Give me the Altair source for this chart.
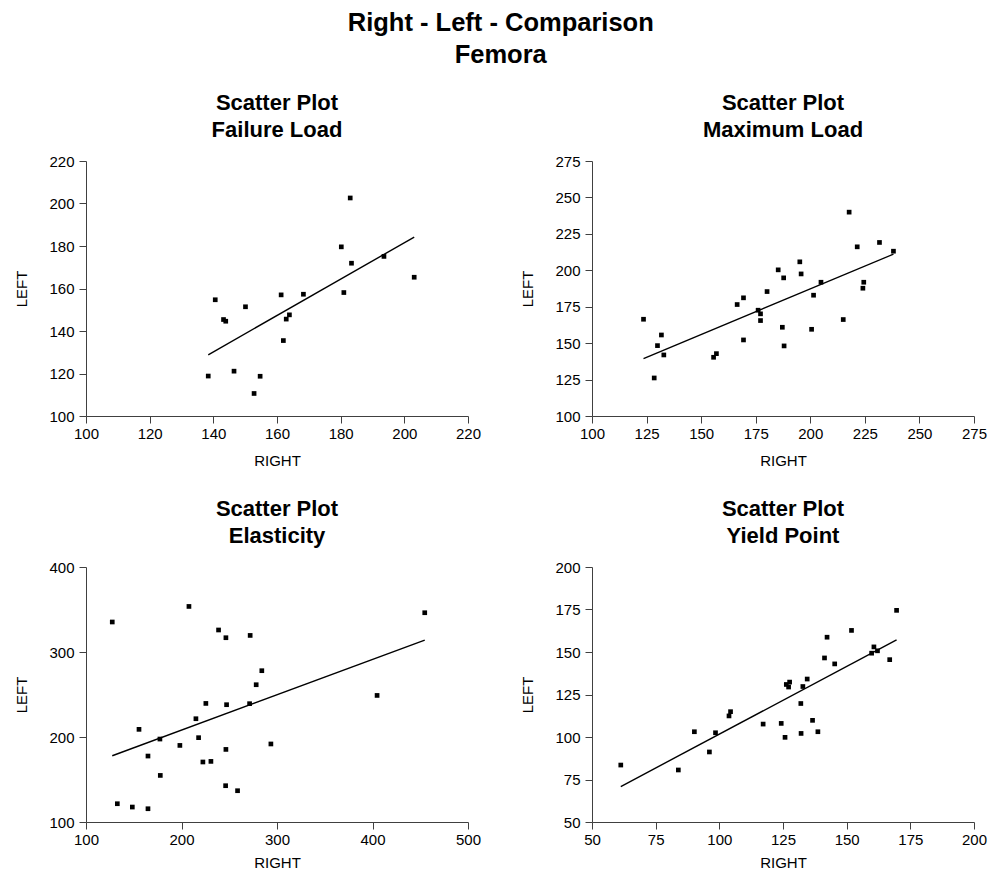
import altair as alt
import pandas as pd

FONT = "Liberation Sans"

# Panel 1: Failure Load
fl_right = [138.4, 140.6, 143.2, 143.9, 146.5, 150.1, 152.8, 154.7, 161.3, 162.0,
            162.9, 163.9, 168.3, 180.2, 181.0, 183.0, 183.4, 193.6, 203.1]
fl_left = [118.8, 154.7, 145.4, 144.6, 121.1, 151.4, 110.6, 118.7, 157.0, 135.5,
           145.6, 147.6, 157.3, 179.6, 158.1, 202.6, 171.9, 175.1, 165.3]

# Panel 2: Maximum Load
ml_right = [123.6, 128.5, 130.0, 131.8, 132.9, 155.7, 157.0, 166.5, 169.4, 169.4,
            176.1, 177.2, 177.2, 180.2, 185.3, 187.2, 187.8, 188.0, 195.2, 195.8,
            200.6, 201.5, 204.9, 215.1, 217.8, 221.5, 224.1, 224.5, 231.7, 238.1]
ml_left = [166.4, 126.1, 148.3, 155.6, 141.9, 140.3, 142.8, 176.5, 181.1, 152.2,
           172.6, 170.1, 165.5, 185.4, 200.3, 160.9, 194.8, 148.1, 205.8, 197.5,
           159.5, 182.9, 191.8, 166.2, 239.9, 216.1, 187.7, 191.8, 219.1, 213.1]

# Panel 3: Elasticity
el_right = [127.5, 132.8, 148.5, 155.5, 164.9, 164.9, 177.4, 177.8, 198.3, 207.8,
            215.1, 217.9, 222.4, 225.5, 230.8, 238.8, 246.2, 246.5, 246.5, 247.2,
            258.7, 271.3, 271.9, 278.2, 284.1, 293.6, 404.8, 454.7]
el_left = [335.3, 121.5, 117.6, 209.0, 177.6, 115.6, 197.6, 154.8, 190.1, 353.6,
           221.5, 199.2, 170.6, 239.5, 171.3, 325.9, 142.7, 316.8, 185.4, 238.0,
           136.8, 239.2, 319.5, 261.5, 278.0, 191.8, 248.9, 346.2]

# Panel 4: Yield Point
yp_right = [61.3, 83.9, 90.2, 96.1, 98.5, 103.8, 104.4, 117.2, 124.3, 125.8,
            126.3, 127.2, 127.6, 132.0, 132.1, 132.8, 134.5, 136.6, 138.7, 141.3,
            142.3, 145.3, 151.9, 159.8, 160.7, 162.1, 166.9, 169.6]
yp_left = [83.5, 80.6, 103.1, 91.2, 102.5, 112.4, 114.9, 107.6, 108.0, 99.8,
           130.9, 129.4, 132.3, 119.7, 102.1, 129.7, 134.1, 109.8, 103.1, 146.5,
           158.7, 143.0, 162.7, 149.3, 153.0, 150.7, 145.5, 174.5]

titles = ["Failure Load", "Maximum Load", "Elasticity", "Yield Point"]
domains = [([100, 220], [100, 220]), ([100, 275], [100, 275]),
           ([100, 500], [100, 400]), ([50, 200], [50, 200])]
steps = [(20, 20), (25, 25), (100, 100), (25, 25)]
datasets = [(fl_right, fl_left), (ml_right, ml_left), (el_right, el_left), (yp_right, yp_left)]


def panel(i):
    r, l = datasets[i]
    df = pd.DataFrame({"right": r, "left": l})
    xd, yd = domains[i]
    xs, ys = steps[i]
    xvals = list(range(xd[0], xd[1] + 1, xs))
    yvals = list(range(yd[0], yd[1] + 1, ys))
    base = alt.Chart(df).encode(
        x=alt.X("right:Q", title="RIGHT",
                scale=alt.Scale(domain=xd, nice=False, zero=False),
                axis=alt.Axis(values=xvals, titlePadding=12 if i < 2 else 8)),
        y=alt.Y("left:Q", title="LEFT",
                scale=alt.Scale(domain=yd, nice=False, zero=False),
                axis=alt.Axis(values=yvals)),
    )
    pts = base.mark_square(size=22, color="black", opacity=1)
    line = base.transform_regression("right", "left").mark_line(color="black", strokeWidth=1.4)
    return alt.layer(pts, line).properties(
        width=382, height=255,
        title=alt.TitleParams(["Scatter Plot", titles[i]], fontSize=22, fontWeight="bold",
                              font=FONT, lineHeight=27, anchor="middle", frame="group",
                              offset=12, color="black"),
    )


row1 = alt.hconcat(panel(0), panel(1), spacing=39)
row2 = alt.hconcat(panel(2), panel(3), spacing=39)
chart = alt.vconcat(row1, row2, spacing=30).properties(
    title=alt.TitleParams(["Right - Left - Comparison", "Femora"], fontSize=25.5,
                          fontWeight="bold", font=FONT, lineHeight=32, anchor="middle",
                          color="black", offset=23.5),
    padding={"left": 6, "top": 3, "right": 3, "bottom": -1},
    background="white",
).configure_view(stroke=None).configure_axis(
    grid=False, domainColor="#404040", tickColor="#404040", tickSize=7,
    labelFont=FONT, titleFont=FONT, labelFontSize=15, titleFontSize=15,
    labelColor="black", titleColor="black", titleFontWeight="normal",
    labelPadding=3, labelFlush=False, labelOverlap=False,
).configure_axisY(titlePadding=19, labelPadding=5)

chart.save("out.html", embed_options={"renderer": "svg", "actions": False})
